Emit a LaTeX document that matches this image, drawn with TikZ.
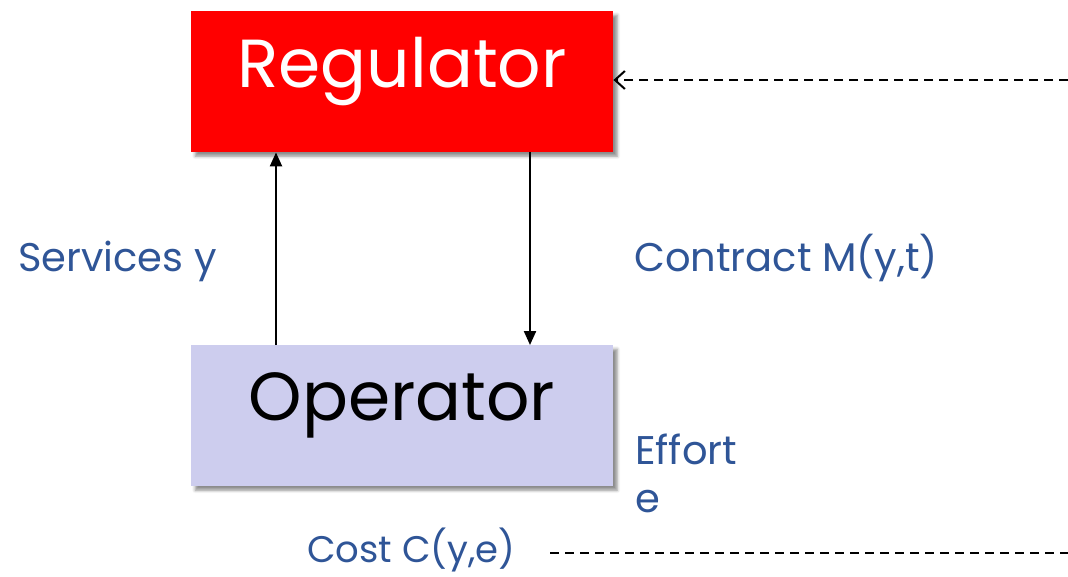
\documentclass[tikz,border=0pt]{standalone}
\usepackage{fontspec}
\setmainfont{Poppins}
\usetikzlibrary{shadows.blur,arrows.meta}
\definecolor{lblue}{HTML}{2F5597}
\definecolor{opfill}{HTML}{CDCDEE}
\tikzset{
  boxstyle/.style={minimum width=422pt,minimum height=141pt,inner sep=0pt,
    blur shadow={shadow xshift=4pt,shadow yshift=-4pt,shadow blur radius=3pt,shadow opacity=45}},
  lbl/.style={text=lblue,font=\fontsize{40}{48}\selectfont,inner sep=0pt},
  conn/.style={line width=2.2pt,-{Triangle[length=14pt,width=12pt]}},
  dconn/.style={line width=2pt,dash pattern=on 9pt off 6pt}
}
\begin{document}
\begin{tikzpicture}[x=1pt,y=-1pt]
\useasboundingbox (0,0) rectangle (1068,576);
\node[boxstyle,fill=red,anchor=north west] (reg) at (191,11) {};
\node[text=white,font=\fontsize{68}{70}\selectfont,inner sep=0pt,anchor=base] (regt) at (402,87) {Regulator};
\node[boxstyle,fill=opfill,anchor=north west] (op) at (191,345) {};
\node[font=\fontsize{68}{70}\selectfont,inner sep=0pt,anchor=base] (opt) at (402,420) {Operator};
\draw[conn] (op.south west|-op.north) ++(85,0) coordinate (a1) -- (a1|-reg.south);
\draw[conn] (reg.south west) ++(339,0) coordinate (a2) -- (a2|-op.north);
\coordinate (rin) at (1068,80);
\draw[dconn,-{Straight Barb[length=10pt,width=18pt,line width=2pt]}] (rin) -- (rin-|reg.east);
\node[lbl,anchor=base west] (serv) at (18,271) {Services y};
\node[lbl,anchor=base west] (contr) at (634,271) {Contract M(y,t)};
\node[lbl,anchor=base west,align=left] (eff) at (635,512) {Effort\\e};
\node[lbl,anchor=base west,font=\fontsize{37}{44}\selectfont] (cost) at (307,562) {Cost C(y,e)};
\coordinate (cstart) at (550,553);
\coordinate (cend) at (1068,553);
\draw[dconn] (cstart) -- (cend);
\end{tikzpicture}
\end{document}
